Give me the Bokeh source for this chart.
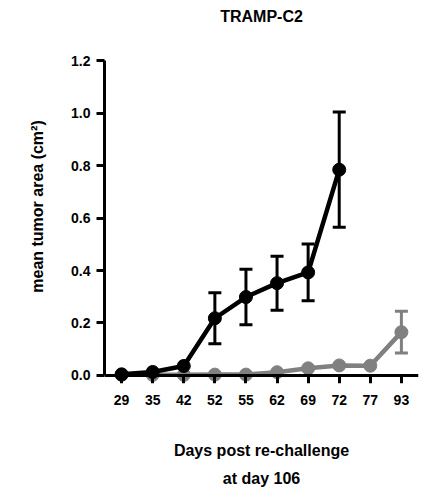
from bokeh.plotting import figure
from bokeh.models import (Range1d, LinearAxis, FixedTicker, Whisker, ColumnDataSource,
                          Title, PrintfTickFormatter, TeeHead)
from bokeh.embed import file_html
from bokeh.resources import INLINE

days = ["29", "35", "42", "52", "55", "62", "69", "72", "77", "93"]
black_mean = [0.004, 0.013, 0.036, 0.218, 0.299, 0.352, 0.393, 0.785]
black_err = [0.0, 0.0, 0.0, 0.097, 0.106, 0.103, 0.108, 0.220]
gray_mean = [0.002, 0.002, 0.002, 0.003, 0.003, 0.012, 0.027, 0.038, 0.037, 0.165]
gray_err = [0.0, 0.0, 0.0, 0.0, 0.0, 0.0, 0.0, 0.0, 0.0, 0.080]
y_ticks = [0.0, 0.2, 0.4, 0.6, 0.8, 1.0, 1.2]

FONT = "Liberation Sans"
GRAY = "#808080"

def src(means):
    xs = list(range(len(means)))
    return ColumnDataSource(dict(x=xs, y=means))

def err_src(means, errs):
    xs = [i for i, e in enumerate(errs) if e > 0]
    return ColumnDataSource(dict(
        x=xs,
        lower=[means[i] - errs[i] for i in xs],
        upper=[means[i] + errs[i] for i in xs],
    ))

p = figure(width=435, height=490, output_backend="svg", toolbar_location=None,
           x_range=Range1d(-0.55, len(days) - 0.45), y_range=Range1d(-0.031, 1.32),
           x_axis_type=None, y_axis_type=None,
           min_border_left=104, min_border_right=17, min_border_top=0, min_border_bottom=100)
p.outline_line_color = None
p.background_fill_color = "white"
p.border_fill_color = "white"

p.title = Title(text="TRAMP-C2", align="center", text_font=FONT, text_font_style="bold",
                text_font_size="16px", text_color="black")

def style(ax):
    ax.axis_line_width = 3
    ax.axis_line_color = "black"
    ax.major_tick_line_width = 3
    ax.major_tick_line_color = "black"
    ax.major_tick_out = 8
    ax.major_tick_in = 0
    ax.minor_tick_line_color = None
    ax.major_label_text_font = FONT
    ax.major_label_text_font_style = "bold"
    ax.major_label_text_font_size = "14px"
    ax.major_label_text_color = "black"
    ax.axis_label_text_font = FONT
    ax.axis_label_text_font_style = "bold"
    ax.axis_label_text_font_size = "16px"
    ax.axis_label_text_color = "black"

x_ticker = FixedTicker(ticks=list(range(len(days))))

# axis line + ticks sitting at y = 0
xaxis0 = LinearAxis(fixed_location=0, ticker=x_ticker)
style(xaxis0)
xaxis0.major_label_text_font_size = "0px"
xaxis0.major_label_text_color = None
xaxis0.major_label_standoff = 0

# tick labels and title of the x axis
xaxis = LinearAxis(ticker=x_ticker,
                   major_label_overrides={i: d for i, d in enumerate(days)})
style(xaxis)
xaxis.axis_line_color = None
xaxis.major_tick_line_color = None
xaxis.major_tick_out = 0
xaxis.major_label_standoff = 11
xaxis.axis_label = "Days post re-challenge\nat day 106"
xaxis.axis_label_text_line_height = 1.7
xaxis.axis_label_standoff = 34

yaxis = LinearAxis(bounds=(0, 1.2), ticker=FixedTicker(ticks=y_ticks),
                   formatter=PrintfTickFormatter(format="%.1f"))
style(yaxis)
yaxis.axis_label = "mean tumor area (cm²)"
yaxis.major_label_standoff = 6
yaxis.axis_label_standoff = 22

p.add_layout(xaxis0, "below")
p.add_layout(xaxis, "below")
p.add_layout(yaxis, "left")

# gray series
gs = src(gray_mean)
p.line("x", "y", source=gs, line_color=GRAY, line_width=4.5)
p.add_layout(Whisker(source=err_src(gray_mean, gray_err), base="x", lower="lower", upper="upper",
                     line_color=GRAY, line_width=3,
                     upper_head=TeeHead(size=13, line_width=3, line_color=GRAY),
                     lower_head=TeeHead(size=13, line_width=3, line_color=GRAY)))
p.scatter("x", "y", source=gs, size=13, fill_color=GRAY, line_color=GRAY)

# black series
bs = src(black_mean)
p.line("x", "y", source=bs, line_color="black", line_width=4.5)
p.add_layout(Whisker(source=err_src(black_mean, black_err), base="x", lower="lower", upper="upper",
                     line_color="black", line_width=3,
                     upper_head=TeeHead(size=13, line_width=3, line_color="black"),
                     lower_head=TeeHead(size=13, line_width=3, line_color="black")))
p.scatter("x", "y", source=bs, size=13, fill_color="black", line_color="black")

open("out.html", "w").write(file_html(p, INLINE))
